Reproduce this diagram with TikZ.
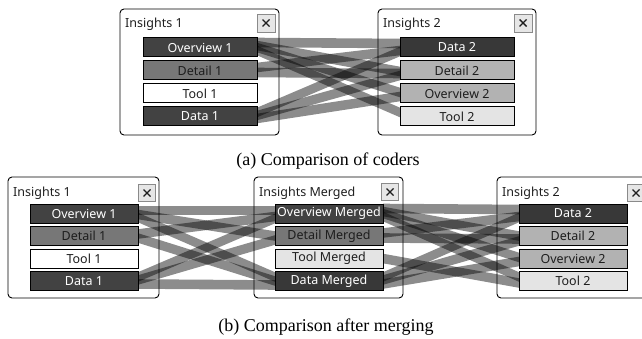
\documentclass[tikz,border=0pt]{standalone}
\usepackage{fontspec}
\setmainfont{Liberation Serif}
\newfontfamily\uifont{Noto Sans}
\usetikzlibrary{calc}
\pgfdeclarelayer{bg}
\pgfsetlayers{bg,main}

\definecolor{itemdark}{HTML}{424242}
\definecolor{itemdarker}{HTML}{383838}
\definecolor{itemmid}{HTML}{777777}
\definecolor{itemlight}{HTML}{B2B2B2}
\definecolor{itempale}{HTML}{E4E4E4}
\definecolor{closefill}{HTML}{E6E6E6}
\definecolor{closeedge}{HTML}{8A8A8A}
\definecolor{inktext}{HTML}{1E1E1E}

\tikzset{
  panel/.style={draw=black, line width=0.9pt, rounded corners=4pt},
  item/.style={draw=black, line width=1pt, minimum height=19pt, inner sep=0pt, outer sep=0pt,
               text=inktext, font=\uifont\fontsize{12.5}{14}\selectfont},
  itemA/.style={item, minimum width=114pt},
  itemB/.style={item, minimum width=108pt},
  darkfill/.style={fill=itemdark, text=white},
  darkerfill/.style={fill=itemdarker, text=white},
  midfill/.style={fill=itemmid},
  lightfill/.style={fill=itemlight},
  palefill/.style={fill=itempale},
  whitefill/.style={fill=white},
  closebox/.style={draw=closeedge, fill=closefill, line width=0.8pt, minimum size=#1, inner sep=0pt},
  closemark/.style={draw=inktext, line width=1.4pt},
  paneltitle/.style={anchor=west, inner sep=0pt, text=inktext, font=\uifont\fontsize{12.5}{14}\selectfont},
  band/.style={fill=black, fill opacity=0.45},
  caption/.style={font=\fontsize{18}{20}\selectfont}
}

% translucent ribbon from the right edge of one item to the left edge of another
\newcommand\ribbon[4]{%
  \fill[band] ($(#1.east)+(0,#2-4.8)$) -- ($(#3.west)+(0,#4-4.8)$)
              -- ($(#3.west)+(0,#4+4.8)$) -- ($(#1.east)+(0,#2+4.8)$) -- cycle;}

% close button with a cross
\newcommand\closebutton[3]{%
  \node[closebox=#3] (#1) at #2 {};
  \draw[closemark] ($(#1.center)+(-3.5,-3.5)$) -- ($(#1.center)+(3.5,3.5)$);
  \draw[closemark] ($(#1.center)+(-3.5,3.5)$) -- ($(#1.center)+(3.5,-3.5)$);}

\begin{document}
\begin{tikzpicture}[x=1pt, y=-1pt]
\useasboundingbox (0,0) rectangle (642,339);

% ---------- (a) comparison of coders ----------
\draw[panel] (120,9) rectangle (279,135);
\node[paneltitle] (ta1) at (125,24) {Insights 1};
\closebutton{ca1}{(266,23)}{18pt}
\node[itemA, darkfill]  (a1o) at (200,47.5)  {Overview 1};
\node[itemA, midfill]   (a1d) at (200,70.5)  {Detail 1};
\node[itemA, whitefill] (a1t) at (200,93.5)  {Tool 1};
\node[itemA, darkfill]  (a1a) at (200,116.5) {Data 1};

\draw[panel] (378,9) rectangle (536,135);
\node[paneltitle] (ta2) at (383,24) {Insights 2};
\closebutton{ca2}{(523,23)}{18pt}
\node[itemA, darkerfill] (a2a) at (457,47.5)  {Data 2};
\node[itemA, lightfill]  (a2d) at (457,70.5)  {Detail 2};
\node[itemA, lightfill]  (a2o) at (457,93.5)  {Overview 2};
\node[itemA, palefill]   (a2t) at (457,116.5) {Tool 2};

\node[caption] (capa) at (328,161) {(a) Comparison of coders};

\begin{pgfonlayer}{bg}
  \ribbon{a1o}{-5}{a2a}{-4}
  \ribbon{a1o}{-2}{a2d}{1}
  \ribbon{a1o}{0}{a2o}{-1}
  \ribbon{a1o}{3}{a2t}{-4}
  \ribbon{a1d}{-3}{a2a}{3}
  \ribbon{a1d}{2}{a2d}{3}
  \ribbon{a1a}{-4}{a2a}{4}
  \ribbon{a1a}{-1}{a2d}{5}
  \ribbon{a1a}{2}{a2o}{3}
\end{pgfonlayer}

% ---------- (b) comparison after merging ----------
\draw[panel] (8,177) rectangle (159,298);
\node[paneltitle] (tb1) at (13,193) {Insights 1};
\closebutton{cb1}{(147,193)}{17pt}
\node[itemB, darkfill]  (b1o) at (84,213.5) {Overview 1};
\node[itemB, midfill]   (b1d) at (84,236)   {Detail 1};
\node[itemB, whitefill] (b1t) at (84,258.5) {Tool 1};
\node[itemB, darkfill]  (b1a) at (84,281)   {Data 1};

\draw[panel] (254,177) rectangle (403,298);
\node[paneltitle] (tbm) at (259,193) {Insights Merged};
\closebutton{cbm}{(390,192)}{17pt}
\node[itemB, darkfill]   (bmo) at (329,213.5) {Overview Merged};
\node[itemB, midfill]    (bmd) at (329,236)   {Detail Merged};
\node[itemB, palefill]   (bmt) at (329,258.5) {Tool Merged};
\node[itemB, darkerfill] (bma) at (329,281)   {Data Merged};

\draw[panel] (497,177) rectangle (656,298);
\node[paneltitle] (tb2) at (502,193) {Insights 2};
\closebutton{cb2}{(636,193)}{17pt}
\node[itemB, darkerfill] (b2a) at (573,213.5) {Data 2};
\node[itemB, lightfill]  (b2d) at (573,236)   {Detail 2};
\node[itemB, lightfill]  (b2o) at (573,258.5) {Overview 2};
\node[itemB, palefill]   (b2t) at (573,281)   {Tool 2};

\node[caption] (capb) at (326,327) {(b) Comparison after merging};

\begin{pgfonlayer}{bg}
  % coder 1 to merged
  \ribbon{b1o}{-3}{bmo}{-3}
  \ribbon{b1o}{1}{bmd}{0}
  \ribbon{b1o}{4}{bma}{-4}
  \ribbon{b1d}{-2}{bmo}{3}
  \ribbon{b1d}{2}{bma}{0}
  \ribbon{b1a}{-4}{bmo}{5}
  \ribbon{b1a}{-1}{bmd}{4}
  \ribbon{b1a}{3}{bma}{4}
  % merged to coder 2
  \ribbon{bmo}{-5}{b2a}{-4}
  \ribbon{bmo}{-2}{b2d}{0}
  \ribbon{bmo}{0}{b2o}{-1}
  \ribbon{bmo}{3}{b2t}{-4}
  \ribbon{bmd}{-3}{b2a}{3}
  \ribbon{bmd}{2}{b2d}{3}
  \ribbon{bmt}{0}{b2t}{2}
  \ribbon{bma}{-4}{b2a}{4}
  \ribbon{bma}{-1}{b2d}{5}
  \ribbon{bma}{3}{b2o}{3}
\end{pgfonlayer}
\end{tikzpicture}
\end{document}
